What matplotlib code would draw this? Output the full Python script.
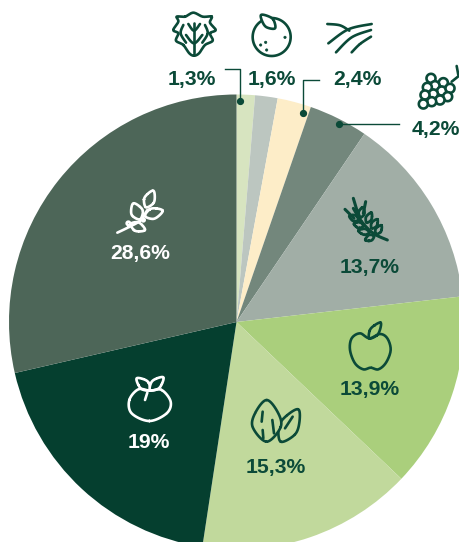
import matplotlib
matplotlib.use("Agg")
import matplotlib.pyplot as plt
import numpy as np

shares = [1.3, 1.6, 2.4, 4.2, 13.7, 13.9, 15.3, 19, 28.6]
labels = ["1,3%", "1,6%", "2,4%", "4,2%", "13,7%", "13,9%", "15,3%", "19%", "28,6%"]
colors = ["#d7e4c0", "#bcc6c0", "#fdedc8", "#73877c", "#a1aea6", "#aacf7c", "#c1d99c", "#053f2f", "#4d6658"]
label_colors = ["#0b4a38"] * 7 + ["white", "white"]
label_pos = [(192, 79), (272, 79), (357, 79), (436, 130), (370, 268), (370, 390), (276, 468), (149, 443), (140, 254)]

DARK = "#0b4a38"
LW = 1.9
plt.rcParams['font.family'] = ['Liberation Sans', 'DejaVu Sans']

fig = plt.figure(figsize=(4.6, 5.42), dpi=100)
ax = fig.add_axes([0, 0, 1, 1])
ax.pie(shares, colors=colors, startangle=90, counterclock=False, center=(236.5, 220), radius=227.5,
       wedgeprops={"linewidth": 0}, frame=True)
ax.set_xlim(0, 460)
ax.set_ylim(0, 542)
ax.axis("off")

# overlay in image pixels, y going down
ov = fig.add_axes([0, 0, 1, 1])
ov.set_xlim(0, 460)
ov.set_ylim(542, 0)
ov.axis("off")
ov.patch.set_alpha(0)


def spline(pts, closed=False):
    pts = np.array(pts, dtype=float)
    if closed:
        pts = np.vstack([pts[-1], pts, pts[0], pts[1]])
    else:
        pts = np.vstack([pts[0], pts, pts[-1]])
    t = np.linspace(0, 1, 12)[:, None]
    out = []
    for i in range(1, len(pts) - 2):
        p0, p1, p2, p3 = pts[i - 1], pts[i], pts[i + 1], pts[i + 2]
        out.append(0.5 * (2 * p1 + (p2 - p0) * t + (2 * p0 - 5 * p1 + 4 * p2 - p3) * t ** 2
                          + (3 * p1 - p0 - 3 * p2 + p3) * t ** 3))
    return np.vstack(out)


def z(pts, ox, oy):
    # zoom crop coords (3x) to image pixels
    return [(ox + x / 3, oy + y / 3) for x, y in pts]


def stroke(pts, ox, oy, color=DARK, lw=LW, closed=False):
    c = spline(z(pts, ox, oy), closed)
    ov.plot(c[:, 0], c[:, 1], color=color, lw=lw, solid_capstyle="round", solid_joinstyle="round")


def leaf(base, tip, width, ox, oy, color=DARK, lw=LW, fill="none"):
    base, tip = np.array(base, float), np.array(tip, float)
    d = tip - base
    n = np.array([-d[1], d[0]]) / np.hypot(*d) * width / 2
    pts = [base, base + 0.35 * d + n, base + 0.7 * d + 0.8 * n, tip, base + 0.7 * d - 0.8 * n, base + 0.35 * d - n]
    c = spline(z(pts, ox, oy), True)
    ov.fill(c[:, 0], c[:, 1], facecolor=fill, edgecolor=color, lw=lw, joinstyle="round")


def ring(x, y, r, ox, oy, color=DARK, lw=LW, fill="none"):
    a = np.linspace(0, 2 * np.pi, 80)
    ov.fill(ox + (x + r * np.cos(a)) / 3, oy + (y + r * np.sin(a)) / 3, facecolor=fill, edgecolor=color, lw=lw)


# value labels
for lab, col, (x, y) in zip(labels, label_colors, label_pos):
    ov.text(x, y, lab, color=col, fontsize=15.2, fontweight="bold", ha="center", va="center", clip_on=True)

# leader lines
ov.plot([225, 240.5, 240.5], [69, 69, 101], color=DARK, lw=1)
ov.plot([319.5, 303, 303], [80, 80, 113], color=DARK, lw=1)
ov.plot([339.5, 399], [124, 124], color=DARK, lw=1)
ov.plot([240.5, 303, 339.5], [101, 113, 124], "o", color=DARK, ms=4.2, lw=0)

# lettuce
stroke([(132, 167), (118, 160), (100, 135), (78, 122), (85, 100), (70, 90), (85, 65), (80, 50), (105, 50), (130, 38),
        (158, 50), (185, 50), (180, 68), (197, 90), (180, 100), (188, 122), (165, 135), (147, 160)], 150, 0, closed=True)
stroke([(132, 70), (132, 160)], 150, 0)
stroke([(108, 105), (132, 130), (157, 105)], 150, 0)
stroke([(115, 72), (132, 92), (150, 72)], 150, 0)
stroke([(100, 75), (92, 100), (108, 128)], 150, 0)
stroke([(165, 75), (173, 100), (157, 128)], 150, 0)

# orange
ring(365, 111, 57, 150, 0)
leaf((375, 85), (333, 45), 30, 150, 0, fill="white")
for x, y in [(332, 135), (347, 127), (350, 150), (405, 112)]:
    ring(x, y, 3.5, 150, 0, fill=DARK, lw=0.5)

# field
stroke([(532, 72), (570, 76), (598, 92)], 150, 0)
stroke([(535, 130), (595, 88), (665, 72)], 150, 0)
stroke([(558, 157), (605, 112), (663, 90)], 150, 0)
stroke([(605, 157), (630, 132), (663, 110)], 150, 0)

# grapes
for x, y in [(843, 235), (880, 248), (855, 257), (832, 262), (875, 273), (900, 265), (850, 282), (825, 285),
             (893, 290), (870, 300), (845, 305), (820, 312)]:
    ring(x, y, 13.5, 150, 0, fill="white")
stroke([(905, 245), (930, 225)], 150, 0)
stroke([(920, 198), (925, 225)], 150, 0)

# sprig
stroke([(82, 158), (115, 142), (150, 122), (172, 90)], 90, 180, color="white")
leaf((168, 82), (190, 32), 30, 90, 180, color="white")
leaf((150, 118), (130, 70), 34, 90, 180, color="white")
leaf((165, 108), (218, 92), 30, 90, 180, color="white")
leaf((122, 132), (165, 150), 26, 90, 180, color="white")
ring(115, 130, 5, 90, 180, color="white")
ring(160, 120, 4, 90, 180, color="white")

# wheat
stroke([(172, 150), (130, 130), (95, 95), (70, 55)], 330, 190, lw=2.2)
stroke([(70, 25), (82, 65)], 330, 190, lw=2.2)
stroke([(45, 58), (72, 85)], 330, 190, lw=2.2)
stroke([(107, 35), (100, 70)], 330, 190, lw=2.2)
for base, tip in [((85, 90), (58, 78)), ((100, 108), (72, 102)), ((118, 128), (85, 122)), ((132, 138), (106, 150)),
                  ((92, 82), (98, 52)), ((110, 98), (124, 68)), ((125, 115), (142, 88)), ((138, 132), (154, 106))]:
    leaf(base, tip, 17, 330, 190, lw=2)

# apple
stroke([(118, 445), (90, 430), (65, 445), (60, 480), (75, 520), (100, 538), (122, 533), (145, 538), (168, 518),
        (182, 480), (172, 445), (150, 432)], 330, 190, closed=True)
leaf((118, 445), (152, 398), 26, 330, 190)

# almonds
leaf((512, 215), (565, 118), 54, 110, 370, fill="#c1d99c")
leaf((470, 215), (470, 90), 84, 110, 370, fill="#c1d99c")
stroke([(458, 125), (455, 155)], 110, 370)
stroke([(458, 180), (460, 205)], 110, 370)
stroke([(487, 150), (492, 190)], 110, 370)
stroke([(548, 140), (525, 175)], 110, 370)

# tomato
stroke([(120, 62), (85, 58), (58, 90), (65, 130), (118, 153), (170, 130), (182, 95), (155, 60)], 110, 370,
       color="white", closed=True)
leaf((120, 60), (80, 25), 28, 110, 370, color="white", fill="#053f2f")
leaf((120, 60), (160, 22), 28, 110, 370, color="white", fill="#053f2f")
stroke([(112, 68), (105, 90)], 110, 370, color="white")

ov.set_xlim(0, 460)
ov.set_ylim(542, 0)
fig.savefig("out.png", dpi=100)
